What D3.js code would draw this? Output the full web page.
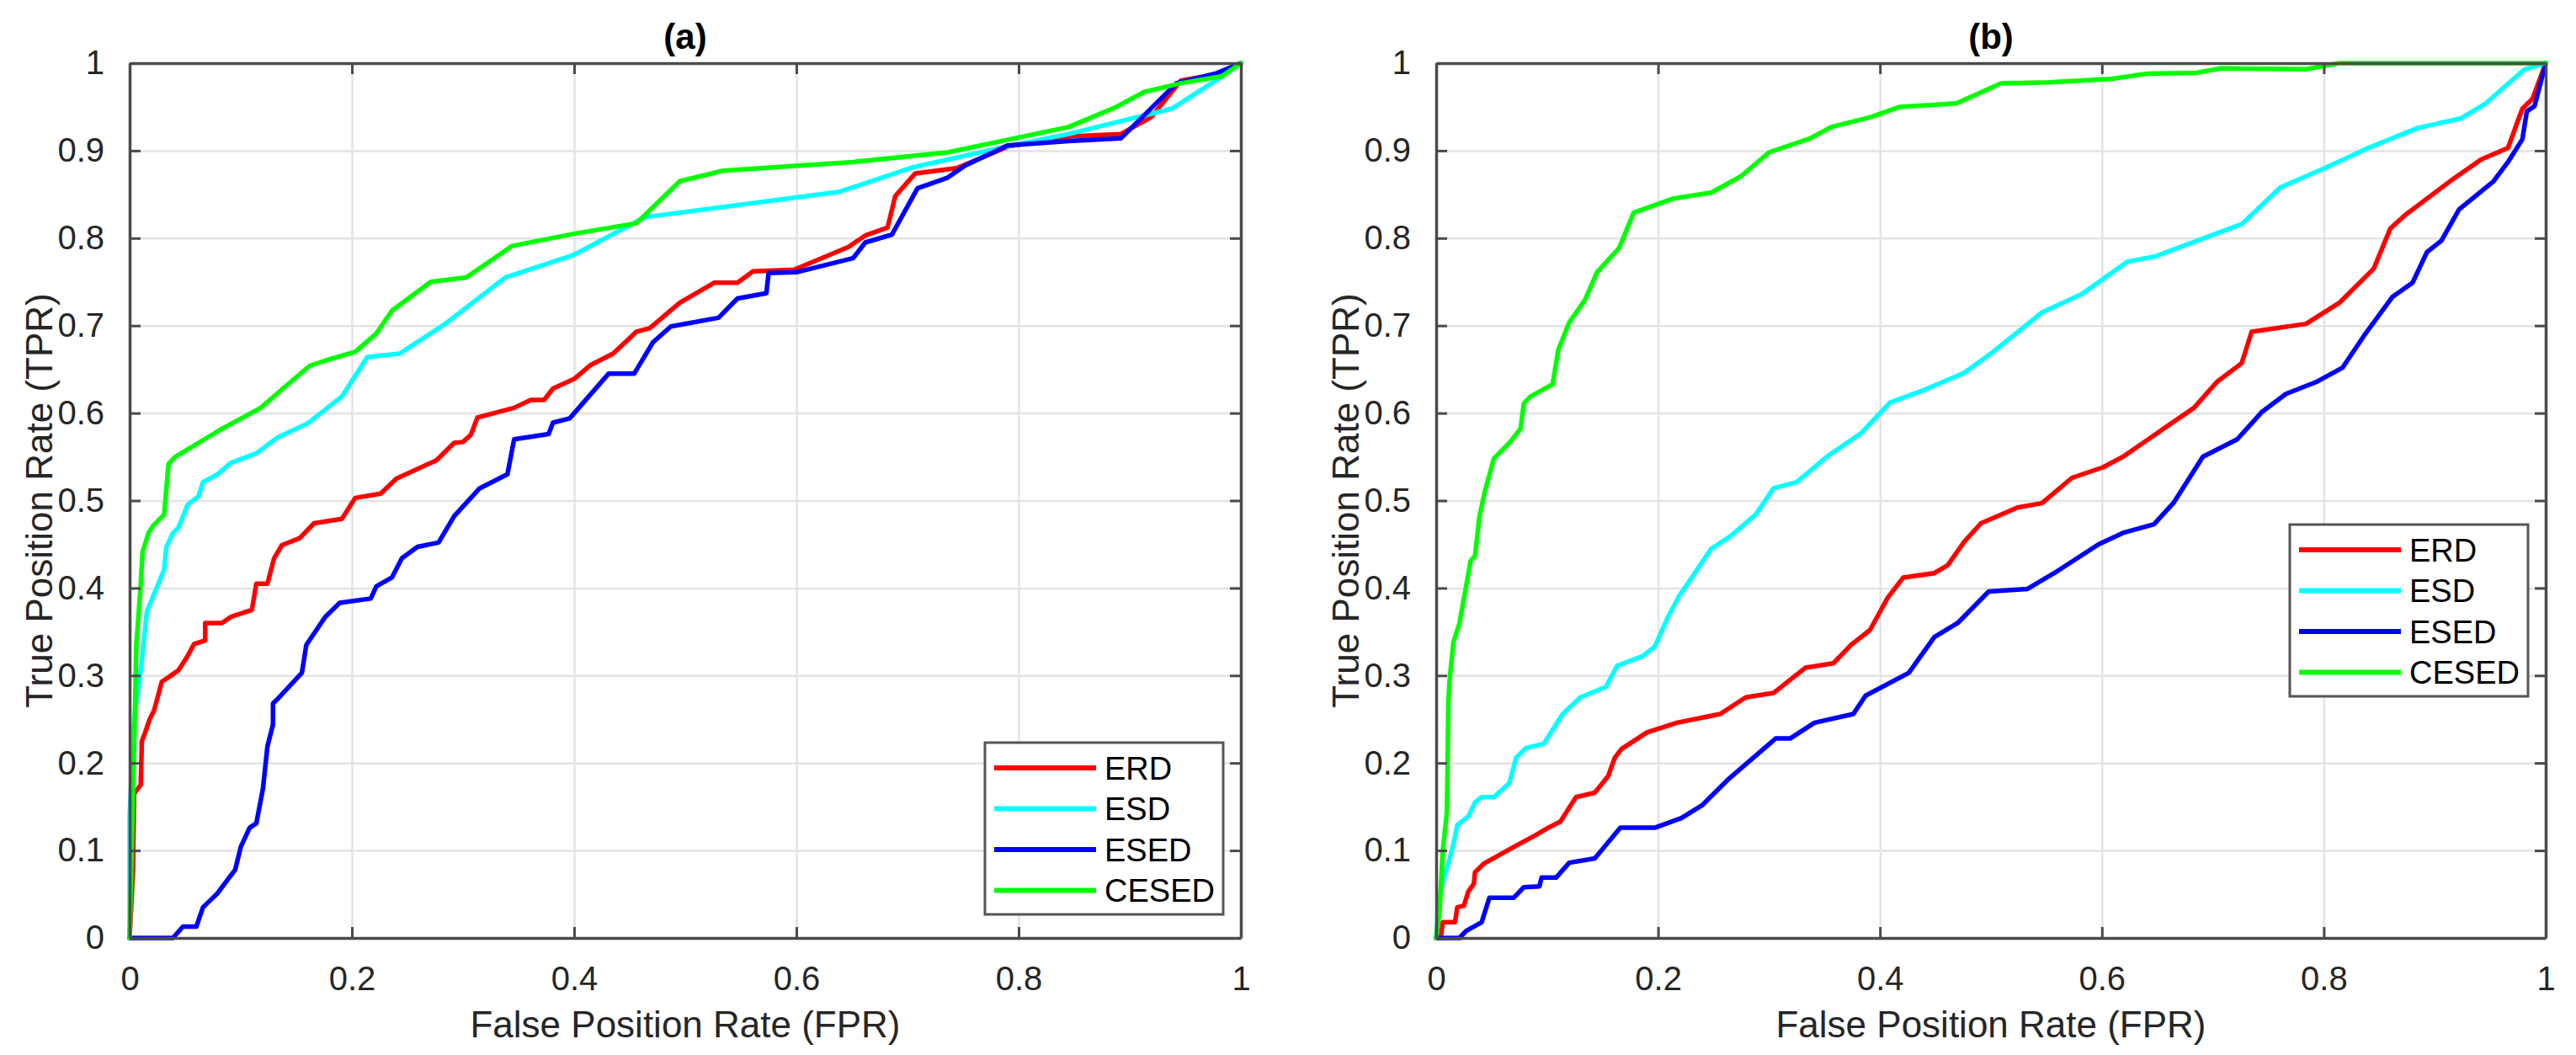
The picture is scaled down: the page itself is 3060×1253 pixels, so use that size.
<!DOCTYPE html>
<html>
<head>
<meta charset="utf-8">
<script src="https://cdn.jsdelivr.net/npm/d3@7"></script>
<style>
html,body{margin:0;padding:0;background:#fff;}
svg{display:block;}
text{font-family:"Liberation Sans",Arial,Helvetica,sans-serif;}
</style>
</head>
<body>
<svg id="chart" width="3060" height="1253"></svg>
<script>
// ---------- data ----------
const seriesNames = ["ERD", "ESD", "ESED", "CESED"];
const seriesColors = ["#ff0000", "#00ffff", "#0000ff", "#00ff00"];
const tickValues = [0, 0.1, 0.2, 0.3, 0.4, 0.5, 0.6, 0.7, 0.8, 0.9, 1];
const xTickValues = [0, 0.2, 0.4, 0.6, 0.8, 1];
const panelTitles = ["(a)", "(b)"];
const xLabel = "False Position Rate (FPR)";
const yLabel = "True Position Rate (TPR)";

// panel (a)
const erdA = [[0,0],[0.003,0.077],[0.004,0.165],[0.010,0.175],[0.011,0.225],[0.014,0.235],[0.018,0.25],[0.022,0.26],[0.029,0.293],[0.035,0.298],[0.044,0.306],[0.052,0.322],[0.058,0.336],[0.068,0.340],[0.068,0.360],[0.083,0.360],[0.091,0.367],[0.110,0.375],[0.114,0.405],[0.124,0.405],[0.130,0.434],[0.137,0.449],[0.153,0.457],[0.166,0.474],[0.191,0.479],[0.203,0.503],[0.226,0.508],[0.240,0.525],[0.276,0.546],[0.292,0.566],[0.300,0.567],[0.307,0.575],[0.313,0.595],[0.346,0.606],[0.361,0.615],[0.373,0.615],[0.381,0.628],[0.400,0.639],[0.415,0.655],[0.435,0.668],[0.446,0.681],[0.456,0.693],[0.468,0.697],[0.495,0.726],[0.526,0.749],[0.547,0.749],[0.561,0.762],[0.598,0.764],[0.619,0.775],[0.647,0.790],[0.662,0.803],[0.682,0.812],[0.689,0.848],[0.707,0.874],[0.744,0.880],[0.767,0.892],[0.791,0.905],[0.841,0.916],[0.892,0.919],[0.919,0.938],[0.946,0.980],[0.981,0.988],[1,1]];
const esdA = [[0,0],[0,0.14],[0.004,0.25],[0.0097,0.303],[0.0155,0.373],[0.031,0.421],[0.033,0.447],[0.039,0.463],[0.044,0.469],[0.052,0.495],[0.062,0.505],[0.066,0.521],[0.079,0.530],[0.091,0.543],[0.114,0.554],[0.133,0.572],[0.160,0.588],[0.191,0.619],[0.214,0.664],[0.243,0.668],[0.284,0.702],[0.338,0.755],[0.400,0.781],[0.464,0.824],[0.639,0.853],[0.705,0.881],[0.790,0.905],[0.845,0.919],[0.938,0.948],[0.981,0.983],[1,1]];
const esedA = [[0,0],[0.039,0],[0.048,0.013],[0.060,0.013],[0.066,0.035],[0.079,0.051],[0.095,0.078],[0.100,0.104],[0.108,0.126],[0.114,0.131],[0.120,0.171],[0.124,0.219],[0.129,0.244],[0.129,0.268],[0.133,0.273],[0.155,0.303],[0.159,0.335],[0.176,0.367],[0.189,0.383],[0.217,0.388],[0.222,0.402],[0.236,0.412],[0.245,0.434],[0.259,0.447],[0.278,0.452],[0.292,0.482],[0.315,0.514],[0.340,0.530],[0.346,0.570],[0.377,0.576],[0.381,0.589],[0.396,0.594],[0.431,0.645],[0.454,0.645],[0.471,0.681],[0.487,0.699],[0.530,0.709],[0.547,0.731],[0.573,0.737],[0.575,0.760],[0.600,0.761],[0.651,0.777],[0.662,0.795],[0.686,0.804],[0.709,0.857],[0.736,0.869],[0.752,0.883],[0.790,0.906],[0.845,0.911],[0.892,0.914],[0.942,0.977],[0.977,0.988],[1,1]];
const cesedA = [[0,0],[0.005,0.273],[0.006,0.335],[0.0097,0.399],[0.0116,0.441],[0.017,0.463],[0.021,0.471],[0.031,0.484],[0.035,0.542],[0.041,0.550],[0.083,0.582],[0.118,0.606],[0.137,0.627],[0.162,0.654],[0.176,0.660],[0.203,0.670],[0.222,0.691],[0.236,0.717],[0.271,0.750],[0.303,0.755],[0.344,0.791],[0.400,0.805],[0.456,0.817],[0.495,0.865],[0.534,0.877],[0.651,0.887],[0.736,0.898],[0.845,0.927],[0.888,0.950],[0.913,0.967],[0.946,0.977],[0.983,0.985],[1,1]];

// panel (b)
const erdB = [[0,0],[0.004,0],[0.006,0.018],[0.017,0.018],[0.019,0.035],[0.025,0.037],[0.029,0.053],[0.034,0.062],[0.035,0.075],[0.043,0.085],[0.070,0.104],[0.089,0.117],[0.101,0.126],[0.112,0.133],[0.126,0.161],[0.143,0.166],[0.155,0.185],[0.161,0.206],[0.167,0.216],[0.190,0.235],[0.217,0.246],[0.256,0.256],[0.279,0.275],[0.304,0.280],[0.333,0.309],[0.358,0.314],[0.374,0.335],[0.391,0.352],[0.407,0.389],[0.421,0.412],[0.449,0.417],[0.461,0.426],[0.476,0.453],[0.491,0.474],[0.524,0.492],[0.546,0.497],[0.573,0.526],[0.601,0.538],[0.619,0.550],[0.652,0.579],[0.683,0.606],[0.704,0.636],[0.726,0.657],[0.735,0.693],[0.784,0.702],[0.814,0.726],[0.845,0.765],[0.860,0.811],[0.873,0.826],[0.917,0.868],[0.942,0.890],[0.966,0.903],[0.979,0.948],[0.988,0.959],[1,1]];
const esdB = [[0,0],[0.002,0.04],[0.006,0.065],[0.0116,0.088],[0.0155,0.107],[0.019,0.129],[0.029,0.139],[0.035,0.155],[0.041,0.161],[0.052,0.161],[0.066,0.177],[0.072,0.206],[0.081,0.217],[0.097,0.222],[0.105,0.238],[0.114,0.256],[0.130,0.275],[0.153,0.287],[0.163,0.311],[0.186,0.322],[0.197,0.333],[0.209,0.367],[0.219,0.391],[0.225,0.402],[0.248,0.445],[0.265,0.459],[0.288,0.484],[0.304,0.514],[0.325,0.521],[0.352,0.550],[0.383,0.577],[0.409,0.612],[0.441,0.627],[0.476,0.646],[0.502,0.670],[0.546,0.715],[0.582,0.736],[0.623,0.773],[0.648,0.779],[0.726,0.816],[0.761,0.858],[0.799,0.879],[0.840,0.903],[0.885,0.926],[0.924,0.937],[0.946,0.954],[0.981,0.993],[1,1]];
const esedB = [[0,0],[0.021,0],[0.027,0.008],[0.041,0.018],[0.048,0.046],[0.070,0.046],[0.079,0.058],[0.093,0.059],[0.095,0.069],[0.108,0.069],[0.120,0.086],[0.143,0.091],[0.166,0.126],[0.197,0.126],[0.221,0.137],[0.240,0.152],[0.263,0.181],[0.306,0.228],[0.319,0.228],[0.341,0.246],[0.376,0.256],[0.387,0.277],[0.426,0.303],[0.449,0.344],[0.470,0.360],[0.498,0.396],[0.533,0.399],[0.557,0.417],[0.597,0.450],[0.619,0.463],[0.647,0.473],[0.665,0.498],[0.691,0.550],[0.722,0.570],[0.744,0.601],[0.766,0.622],[0.794,0.636],[0.817,0.652],[0.836,0.688],[0.862,0.733],[0.880,0.749],[0.893,0.784],[0.906,0.797],[0.922,0.833],[0.953,0.865],[0.966,0.887],[0.979,0.913],[0.983,0.945],[0.990,0.951],[1,1]];
const cesedB = [[0,0],[0.003,0.030],[0.006,0.100],[0.0097,0.145],[0.011,0.27],[0.012,0.293],[0.0155,0.338],[0.021,0.360],[0.027,0.402],[0.031,0.431],[0.035,0.437],[0.039,0.482],[0.044,0.511],[0.052,0.548],[0.066,0.566],[0.076,0.582],[0.079,0.611],[0.085,0.619],[0.105,0.633],[0.110,0.672],[0.120,0.704],[0.134,0.729],[0.145,0.761],[0.165,0.789],[0.178,0.829],[0.213,0.845],[0.248,0.852],[0.275,0.871],[0.300,0.898],[0.337,0.914],[0.356,0.927],[0.391,0.938],[0.418,0.950],[0.469,0.954],[0.509,0.977],[0.553,0.978],[0.608,0.982],[0.641,0.988],[0.685,0.989],[0.707,0.994],[0.784,0.993],[0.814,1.0],[1,1]];

// ---------- layout ----------
const panels = [
  {left: 154, right: 1474, top: 75, bottom: 1114, series: [erdA, esdA, esedA, cesedA], legend: {x: 1170, y: 882}},
  {left: 1706, right: 3024, top: 75, bottom: 1114, series: [erdB, esdB, esedB, cesedB], legend: {x: 2720, y: 623}}
];

const svg = d3.select("#chart");
svg.append("rect").attr("width", 3060).attr("height", 1253).attr("fill", "#fff");

const axisColor = "#4a4a4a";
const labelColor = "#262626";
const fmt = d => (d === 0 ? "0" : d === 1 ? "1" : String(d));

panels.forEach((p, i) => {
  const x = d3.scaleLinear().domain([0, 1]).range([p.left, p.right]);
  const y = d3.scaleLinear().domain([0, 1]).range([p.bottom, p.top]);
  const w = p.right - p.left, h = p.bottom - p.top;
  const g = svg.append("g");

  // grid
  const grid = g.append("g");
  grid.append("g").attr("transform", `translate(0,${p.bottom})`)
    .call(d3.axisBottom(x).tickValues(xTickValues).tickSize(-h).tickFormat(""))
    .call(s => { s.select(".domain").remove(); s.selectAll("line").attr("stroke", "#e3e3e3").attr("stroke-width", 2.5); });
  grid.append("g").attr("transform", `translate(${p.left},0)`)
    .call(d3.axisLeft(y).tickValues(tickValues).tickSize(-w).tickFormat(""))
    .call(s => { s.select(".domain").remove(); s.selectAll("line").attr("stroke", "#e3e3e3").attr("stroke-width", 2.5); });

  // curves
  const line = d3.line().x(d => x(d[0])).y(d => y(d[1]));
  p.series.forEach((data, k) => {
    g.append("path").datum(data).attr("d", line)
      .attr("fill", "none").attr("stroke", seriesColors[k])
      .attr("stroke-width", 5.5).attr("stroke-linejoin", "round").attr("stroke-linecap", "round");
  });

  // axes (box with inward ticks)
  const styleAxis = s => {
    s.select(".domain").attr("stroke", axisColor).attr("stroke-width", 3.5);
    s.selectAll(".tick line").attr("stroke", axisColor).attr("stroke-width", 3);
    s.selectAll(".tick text").attr("fill", labelColor).attr("font-size", 40)
      .attr("font-family", "'Liberation Sans', Arial, sans-serif");
  };
  g.append("g").attr("transform", `translate(0,${p.bottom})`)
    .call(d3.axisBottom(x).tickValues(xTickValues).tickSize(-13).tickSizeOuter(0).tickPadding(34).tickFormat(fmt))
    .call(styleAxis);
  g.append("g").attr("transform", `translate(0,${p.top})`)
    .call(d3.axisTop(x).tickValues(xTickValues).tickSize(-13).tickSizeOuter(0).tickFormat(""))
    .call(styleAxis);
  g.append("g").attr("transform", `translate(${p.left},0)`)
    .call(d3.axisLeft(y).tickValues(tickValues).tickSize(-13).tickSizeOuter(0).tickPadding(30).tickFormat(fmt))
    .call(styleAxis);
  g.append("g").attr("transform", `translate(${p.right},0)`)
    .call(d3.axisRight(y).tickValues(tickValues).tickSize(-13).tickSizeOuter(0).tickFormat(""))
    .call(styleAxis);

  // title
  g.append("text").attr("x", (p.left + p.right) / 2).attr("y", 58)
    .attr("text-anchor", "middle").attr("font-size", 42).attr("font-weight", "bold")
    .attr("fill", "#000").text(panelTitles[i]);

  // axis labels
  g.append("text").attr("x", (p.left + p.right) / 2).attr("y", 1232)
    .attr("text-anchor", "middle").attr("font-size", 44).attr("fill", labelColor).text(xLabel);
  g.append("text")
    .attr("transform", `translate(${p.left - 92},${(p.top + p.bottom) / 2}) rotate(-90)`)
    .attr("text-anchor", "middle").attr("font-size", 44).attr("fill", labelColor).text(yLabel);

  // legend
  const lg = g.append("g").attr("transform", `translate(${p.legend.x},${p.legend.y})`);
  lg.append("rect").attr("width", 283).attr("height", 204)
    .attr("fill", "#fff").attr("stroke", "#555").attr("stroke-width", 3);
  seriesNames.forEach((name, k) => {
    const cy = 30 + k * 48.5;
    lg.append("line").attr("x1", 11).attr("x2", 132).attr("y1", cy).attr("y2", cy)
      .attr("stroke", seriesColors[k]).attr("stroke-width", 6);
    lg.append("text").attr("x", 142).attr("y", cy).attr("dy", "0.36em")
      .attr("font-size", 38).attr("fill", "#000").text(name);
  });
});
</script>
</body>
</html>
